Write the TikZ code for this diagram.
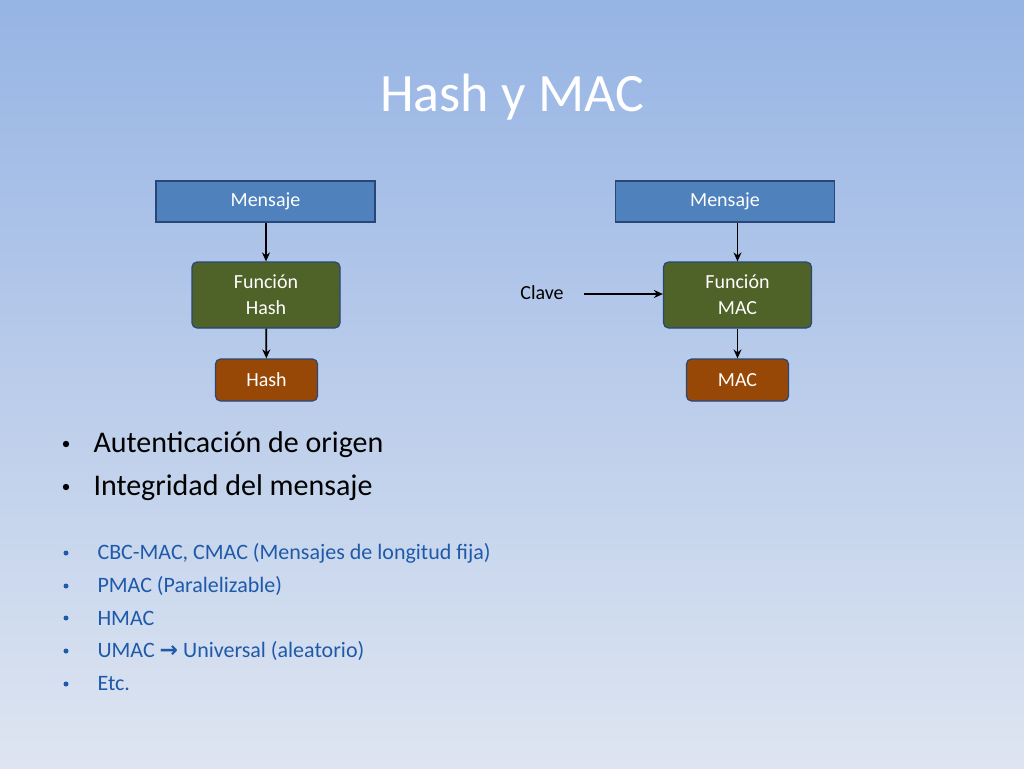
\documentclass[tikz,border=0pt]{standalone}
\usepackage{fontspec}
\setmainfont{Carlito}
\newfontfamily\dejavu{DejaVu Sans}
\usetikzlibrary{arrows.meta}
\definecolor{bgtop}{RGB}{150,180,228}
\definecolor{bgbot}{RGB}{222,229,241}
\definecolor{msg}{RGB}{79,129,189}
\definecolor{msgb}{RGB}{40,70,120}
\definecolor{fun}{RGB}{79,98,40}
\definecolor{out}{RGB}{151,72,6}
\definecolor{bl}{RGB}{31,90,170}
\tikzset{
 box/.style={draw=msgb,line width=1.2pt,text=white,font=\fontsize{20}{24}\selectfont,align=center,inner sep=0pt},
 msgbox/.style={box,fill=msg,minimum width=219pt,minimum height=41pt},
 funbox/.style={box,fill=fun,rounded corners=5pt,minimum width=148pt,minimum height=66pt},
 outbox/.style={box,fill=out,rounded corners=5pt,minimum width=102pt,minimum height=42pt},
 arr/.style={-{Stealth[length=9pt,width=8pt]},line width=1.8pt},
 big/.style={anchor=west,font=\fontsize{30}{36}\selectfont},
 sm/.style={anchor=west,text=bl,font=\fontsize{22}{26}\selectfont}
}
\begin{document}
\begin{tikzpicture}[x=1pt,y=-1pt]
\shade[top color=bgtop,bottom color=bgbot] (0,0) rectangle (1024,768);
\useasboundingbox (0,0) rectangle (1024,768);
\node[font=\fontsize{54}{60}\selectfont,text=white] (title) at (512,97) {Hash y MAC};
\node[msgbox] (m1) at (265.5,201.5) {Mensaje};
\node[funbox] (f1) at (266,295) {Función\\[2pt]Hash};
\node[outbox] (h1) at (266.5,380) {Hash};
\node[msgbox] (m2) at (725,201.5) {Mensaje};
\node[funbox] (f2) at (737.5,295) {Función\\[2pt]MAC};
\node[outbox] (h2) at (737.5,380) {MAC};
\node[font=\fontsize{20}{24}\selectfont] (cl) at (542,293) {Clave};
\draw[arr] (m1.south -| f1) -- (f1.north);
\draw[arr] (f1) -- (h1);
\draw[arr] (m2.south -| f2) -- (f2.north);
\draw[arr] (f2) -- (h2);
\draw[arr] (584,294) coordinate (c0) -- (f2.west |- c0);
\foreach \y/\t in {445/Autenticación de origen,488/Integridad del mensaje}{
 \node[big] at (90,\y) {\t};
 \fill (66,\y-1) circle (3.2pt);
}
\foreach \y/\t in {553/{CBC-MAC, CMAC (Mensajes de longitud fija)},586/PMAC (Paralelizable),618/HMAC,651/{UMAC {\dejavu\bfseries →} Universal (aleatorio)},684/Etc.}{
 \node[sm] at (94,\y) {\t};
 \fill[bl] (66,\y) circle (2.5pt);
}
\end{tikzpicture}
\end{document}
